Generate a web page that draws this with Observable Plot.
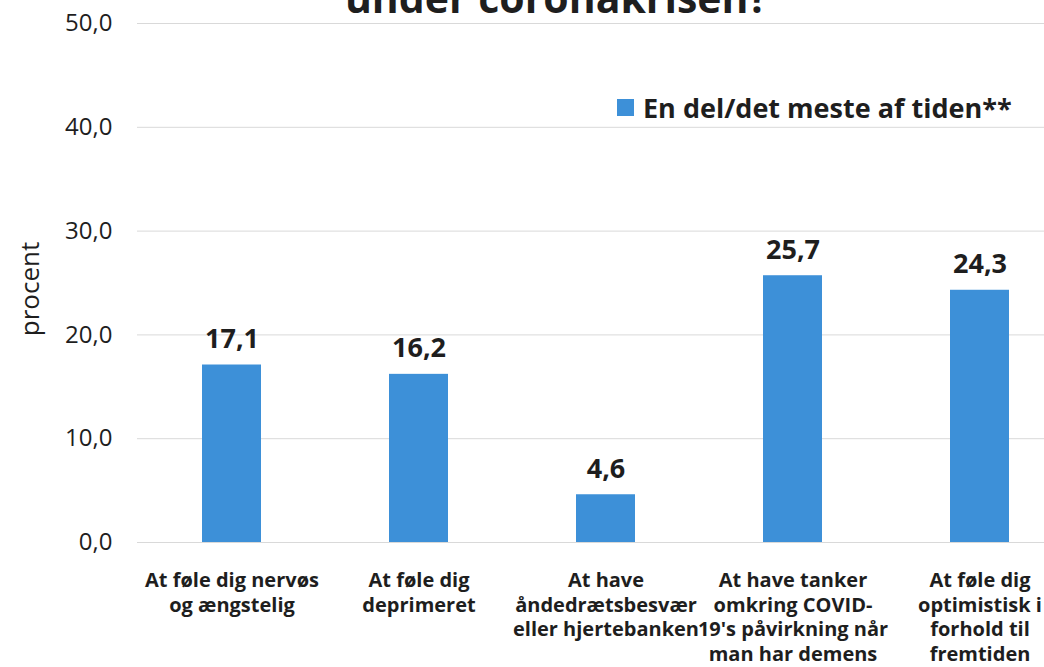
<!DOCTYPE html>
<html><head><meta charset="utf-8">
<script src="https://cdn.jsdelivr.net/npm/d3@7"></script>
<script src="https://cdn.jsdelivr.net/npm/@observablehq/plot@0.6"></script>
<style>
html,body{margin:0;padding:0;background:#fff;overflow:hidden;}
#wrap{position:relative;width:1044px;height:667px;overflow:hidden;}
#wrap svg{position:absolute;left:0;top:0;max-width:none;}
#legend{position:absolute;left:617px;top:89px;display:flex;align-items:center;font-family:"Open Sans",sans-serif;font-weight:700;font-size:27px;color:#1e1e1e;white-space:nowrap;}
#legend .sw{display:inline-block;width:17px;height:17px;background:#3d90d8;margin-right:9px;}
</style></head>
<body><div id="wrap"><div id="legend"><span class="sw"></span><span id="legendText"></span></div></div>
<script>
const categories = [
  "At føle dig nervøs\nog ængstelig",
  "At føle dig\ndeprimeret",
  "At have\nåndedrætsbesvær\neller hjertebanken",
  "At have tanker\nomkring COVID-\n19's påvirkning når\nman har demens",
  "At føle dig\noptimistisk i\nforhold til\nfremtiden"
];
const values = [17.1, 16.2, 4.6, 25.7, 24.3];
const yTicks = [0, 10, 20, 30, 40, 50];
const seriesName = "En del/det meste af tiden**";
const yLabel = "procent";
const titleLines = ["under coronakrisen?"];

const barColor = "#3d90d8";
const data = categories.map((c, i) => ({category: c, value: values[i]}));
const fmt = v => d3.format(".1f")(v).replace(".", ",");

document.getElementById("legendText").textContent = seriesName;

const chart = Plot.plot({
  width: 1080, height: 667,
  marginLeft: 137, marginRight: 7, marginTop: 23, marginBottom: 125,
  style: {fontFamily: "'Open Sans', sans-serif", color: "#1e1e1e", background: "transparent", overflow: "visible"},
  x: {domain: categories, paddingInner: 0.685, paddingOuter: 0.3425},
  y: {domain: [0, 50]},
  marks: [
    Plot.gridY(yTicks, {stroke: "#d9d9d9", strokeOpacity: 1, strokeWidth: 1}),
    Plot.axisY(yTicks, {tickSize: 0, tickPadding: 25, tickFormat: fmt, fontSize: 24, label: null}),
    Plot.axisX({tickSize: 0, tickPadding: 27.5, fontSize: 20, fontWeight: "bold", lineHeight: 24.5/20, label: null}),
    Plot.barY(data, {x: "category", y: "value", fill: barColor}),
    Plot.text(data, {x: "category", y: "value", text: d => fmt(d.value), lineAnchor: "bottom", dy: -17, fontSize: 27, fontWeight: "bold"}),
    Plot.text([yLabel], {frameAnchor: "left", textAnchor: "middle", text: d => d, dx: -107, dy: 6, rotate: -90, fontSize: 26}),
    Plot.text(titleLines, {frameAnchor: "top", textAnchor: "middle", text: d => d, dx: -49, dy: -11, lineAnchor: "bottom", fontSize: 41, fontWeight: "bold"})
  ]
});
document.getElementById("wrap").prepend(chart);
</script>
</body></html>
